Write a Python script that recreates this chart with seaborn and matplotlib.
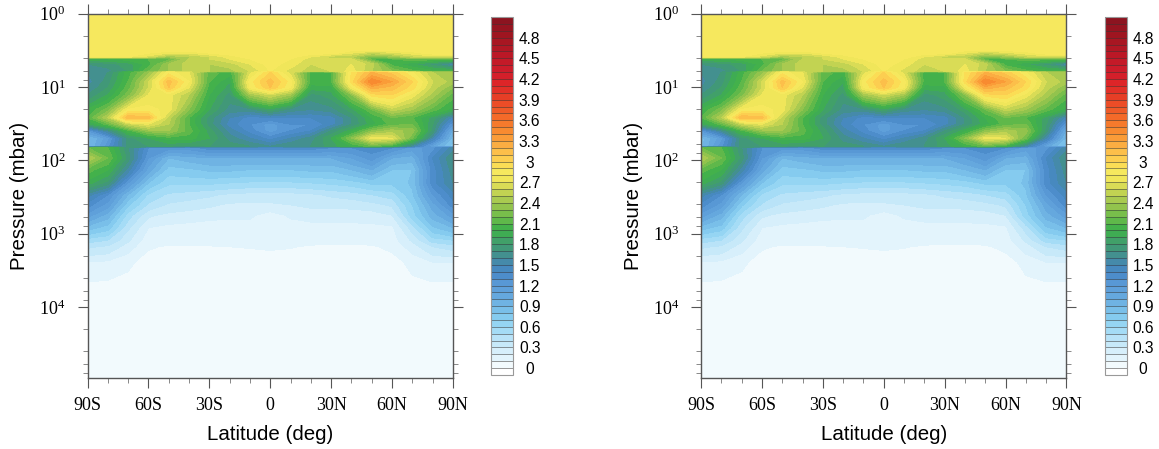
import numpy as np
import seaborn as sns
import matplotlib
matplotlib.use('Agg')
import matplotlib.pyplot as plt
import matplotlib.colors as mcolors
from matplotlib.ticker import FixedLocator, LogLocator, NullFormatter

# Latitude on x, log10 of pressure on y, one list of values per pressure level
lats = [-90, -80, -70, -60, -50, -40, -30, -20, -10, 0, 10, 20, 30, 40, 50, 60, 70, 80, 90]
log_p = [0, .43, .50, .54, .59, .62, .69, .79, .80, .93, 1.01, 1.11, 1.31, 1.42, 1.51, 1.60, 1.70, 1.81,
         1.83, 1.97, 2.13, 2.31, 2.47, 2.61, 2.75, 2.92, 3.09, 3.18, 3.39, 3.66, 3.90, 4.97]

top_yellow = [2.85] * 19
r_043 = [2.85] * 19
r_050 = [2.85, 2.85, 2.85, 2.85, 2.85, 2.85, 2.85, 2.85, 2.85, 2.85, 2.85, 2.85, 2.85, 2.82, 2.8, 2.82, 2.85, 2.85, 2.85]
r_054 = [2.85, 2.85, 2.85, 2.8, 2.7, 2.7, 2.8, 2.85, 2.85, 2.85, 2.85, 2.85, 2.85, 2.7, 2.55, 2.65, 2.75, 2.85, 2.85]
r_059 = [2.85, 2.85, 2.8, 2.65, 2.4, 2.5, 2.6, 2.75, 2.85, 2.85, 2.85, 2.7, 2.55, 2.5, 2.25, 2.35, 2.55, 2.65, 2.65]
r_062 = [2.0, 2.0, 2.05, 2.1, 2.15, 2.5, 2.6, 2.7, 2.8, 2.85, 2.8, 2.65, 2.6, 2.6, 2.1, 2.1, 2.2, 2.15, 2.15]
r_069 = [1.7, 1.75, 1.85, 2.05, 2.4, 2.55, 2.5, 2.55, 2.7, 2.85, 2.75, 2.6, 2.65, 2.7, 2.55, 2.05, 1.9, 1.75, 1.5]
r_079 = [1.6, 1.65, 1.8, 2.2, 2.4, 2.55, 2.5, 2.45, 2.6, 2.8, 2.65, 2.55, 2.6, 2.75, 2.5, 2.3, 2.15, 2.05, 2.05]
r_080 = [1.6, 1.7, 2.05, 2.35, 2.85, 2.7, 2.15, 2.05, 2.65, 3.0, 2.65, 2.05, 2.1, 2.9, 3.2, 3.05, 2.8, 2.5, 2.5]
r_093 = [1.55, 1.75, 2.1, 2.6, 3.15, 2.8, 2.1, 1.9, 2.85, 3.15, 2.85, 2.05, 2.1, 2.95, 3.5, 3.3, 3.0, 2.6, 2.45]
r_101 = [1.6, 1.8, 2.15, 2.6, 3.1, 2.7, 2.05, 1.85, 2.8, 3.1, 2.8, 1.95, 1.95, 2.75, 3.25, 3.15, 2.95, 2.55, 2.3]
r_111 = [1.7, 1.9, 2.25, 2.7, 2.75, 2.5, 2.0, 1.75, 2.4, 2.6, 2.4, 1.75, 1.85, 2.3, 2.95, 3.0, 2.75, 2.45, 2.15]
r_131 = [2.0, 2.25, 2.8, 2.85, 2.75, 2.3, 1.9, 1.65, 1.65, 1.85, 1.65, 1.6, 1.65, 1.85, 2.2, 2.55, 2.4, 2.15, 1.95]
r_142 = [2.1, 2.5, 3.2, 3.15, 2.55, 2.1, 1.75, 1.5, 1.35, 1.4, 1.4, 1.4, 1.45, 1.7, 2.0, 2.2, 2.1, 1.85, 1.45]
r_151 = [1.85, 2.15, 2.55, 2.7, 2.5, 2.1, 1.75, 1.45, 1.3, 1.15, 1.3, 1.3, 1.45, 1.7, 1.95, 2.15, 2.2, 1.8, 1.2]
r_160 = [1.2, 1.6, 2.05, 2.35, 2.4, 2.15, 1.85, 1.55, 1.35, 1.15, 1.3, 1.4, 1.7, 1.95, 2.3, 2.45, 2.35, 1.75, 0.95]
r_170 = [0.85, 1.15, 1.75, 1.9, 2.05, 2.05, 1.9, 1.65, 1.5, 1.35, 1.5, 1.65, 1.9, 2.3, 2.75, 2.7, 2.2, 1.5, 0.85]
r_181 = [0.85, 1.25, 1.75, 1.8, 1.8, 1.75, 1.8, 1.75, 1.7, 1.6, 1.7, 1.7, 1.85, 2.0, 2.15, 2.0, 1.55, 1.05, 0.75]
r_183 = [2.2, 2.1, 1.7, 1.3, 1.25, 1.25, 1.35, 1.35, 1.35, 1.35, 1.35, 1.35, 1.3, 1.3, 1.35, 1.3, 1.15, 1.25, 1.55]
r_197 = [2.5, 2.2, 1.75, 1.2, .9, .95, 1.0, 1.0, 1.0, 1.0, 1.0, 1.0, 1.0, 1.1, 1.25, 1.0, .95, 1.4, 1.7]
r_213 = [2.15, 2.0, 1.55, 1.05, .75, .78, .82, .82, .8, .8, .8, .82, .82, .9, 1.0, .8, .8, 1.35, 1.65]
r_231 = [1.95, 1.75, 1.2, .8, .62, .62, .62, .6, .58, .58, .58, .6, .62, .65, .72, .72, .82, 1.35, 1.6]
r_247 = [1.55, 1.3, .9, .58, .48, .45, .42, .38, .36, .36, .36, .38, .42, .45, .5, .55, .78, 1.2, 1.45]
r_261 = [1.35, 1.15, .72, .48, .38, .35, .32, .28, .28, .28, .3, .32, .32, .33, .36, .42, .7, 1.05, 1.35]
r_275 = [1.15, .95, .55, .32, .27, .25, .23, .22, .22, .15, .22, .25, .25, .25, .25, .3, .65, .95, 1.15]
r_292 = [.85, .75, .42, .2, .17, .16, .15, .15, .15, .13, .14, .15, .15, .16, .17, .18, .45, .78, .9]
r_309 = [.55, .5, .32, .14, .13, .13, .13, .13, .12, .12, .12, .13, .13, .13, .13, .15, .32, .55, .6]
r_318 = [.42, .38, .25, .11, .09, .09, .095, .1, .105, .11, .105, .09, .08, .08, .09, .12, .25, .4, .45]
r_339 = [.19, .18, .12, .06, .05, .05, .05, .05, .05, .06, .05, .05, .05, .05, .05, .06, .13, .2, .2]
r_366 = [.1, .09, .07, .05, .05, .05, .05, .05, .05, .05, .05, .05, .05, .05, .05, .05, .08, .1, .1]
r_390 = [.05] * 19
r_497 = [.05] * 19

rows = [top_yellow, r_043, r_050, r_054, r_059, r_062, r_069, r_079, r_080, r_093, r_101, r_111, r_131, r_142, r_151,
        r_160, r_170, r_181, r_183, r_197, r_213, r_231, r_247, r_261, r_275, r_292, r_309, r_318, r_339,
        r_366, r_390, r_497]

cbar_ticks = [0, .3, .6, .9, 1.2, 1.5, 1.8, 2.1, 2.4, 2.7, 3, 3.3, 3.6, 3.9, 4.2, 4.5, 4.8]
x_ticks = [-90, -60, -30, 0, 30, 60, 90]
x_labels = ['90S', '60S', '30S', '0', '30N', '60N', '90N']
y_ticks = [1, 10, 100, 1000, 10000]
y_labels = ['$10^{0}$', '$10^{1}$', '$10^{2}$', '$10^{3}$', '$10^{4}$']

# one colour per box of the colour bar, from below 0 up to above 5
box_colors = ['#FFFFFF', '#F2FAFD', '#E3F4FC', '#D7EFFB', '#C7E9F9', '#B9E3F8', '#A5DCF6', '#95D5F3', '#85CBEF',
              '#79BFE9', '#6FB3E3', '#65A8DE', '#5FA0DA', '#5898D5', '#4D8DCB', '#4789BF', '#458AAA', '#43908F',
              '#419878', '#41A069', '#3FAC53', '#43B14B', '#5FB84A', '#78BE4B', '#92C34D', '#A9CA50', '#C2D352',
              '#D9DC56', '#F0E65A', '#F6E85E', '#FBDD55', '#FCCE50', '#FCBF4A', '#FBAD42', '#FA9C38', '#F88B30',
              '#F67A2C', '#F46A29', '#EF5B28', '#EC4D27', '#E63E26', '#E23027', '#DD2528', '#D41F2A', '#CC1C2A',
              '#C41A28', '#BB1826', '#B11724', '#A81622', '#9E1520', '#961420', '#8C1420']

sns.set_style('ticks', {'text.color': 'black', 'axes.labelcolor': 'black',
                        'xtick.color': 'black', 'ytick.color': 'black'})
plt.rcParams['font.family'] = ['Liberation Sans', 'DejaVu Sans']
plt.rcParams['mathtext.default'] = 'regular'

W, H = 1159, 449
AXIS_COLOR = '#555555'
levels = np.round(np.arange(0, 5.01, 0.1), 1)
pressure = 10.0 ** np.array(log_p)
field = np.array(rows)


def draw_panel(fig, x_off):
    '''Draw one pressure-latitude section with its colour bar, shifted right by x_off pixels.'''
    # each panel gets its own norm, a shared one resets the first colour bar's ticks
    cmap, norm = mcolors.from_levels_and_colors(levels, sns.color_palette(box_colors), extend='both')

    ax = fig.add_axes([(87.5 + x_off) / W, (H - 378) / H, 365.5 / W, 364.5 / H])
    cf = ax.contourf(lats, pressure, field, levels=levels, cmap=cmap, norm=norm, extend='both')

    ax.set_yscale('log')
    ax.set_ylim(10 ** 4.97, 1)
    ax.set_xlim(-90, 90)

    ax.xaxis.set_major_locator(FixedLocator(x_ticks))
    ax.xaxis.set_minor_locator(FixedLocator(list(range(-90, 91, 10))))
    ax.set_xticklabels(x_labels, family='Liberation Serif', fontsize=13)
    ax.yaxis.set_major_locator(FixedLocator(y_ticks))
    ax.yaxis.set_minor_locator(LogLocator(base=10, subs=(2, 4, 6, 8), numticks=12))
    ax.yaxis.set_minor_formatter(NullFormatter())
    ax.set_yticklabels(y_labels, family='Liberation Serif', fontsize=13)

    ax.tick_params(which='major', direction='out', length=7, width=0.8, color=AXIS_COLOR,
                   top=True, right=True, labelcolor='black')
    ax.tick_params(which='minor', direction='out', length=3.5, width=0.7, color='#888888',
                   top=True, right=True)
    ax.tick_params(axis='x', which='major', pad=7)
    ax.tick_params(axis='y', which='major', pad=9)
    for spine in ax.spines.values():
        spine.set_color(AXIS_COLOR)
        spine.set_linewidth(1.0)

    ax.set_xlabel('Latitude (deg)', fontsize=14.8, va='center')
    ax.xaxis.set_label_coords(0.5, -0.154)
    ax.set_ylabel('Pressure (mbar)', fontsize=14.8, va='center')
    ax.yaxis.set_label_coords(-0.185, 0.5)

    cax = fig.add_axes([(491 + x_off) / W, (H - 375) / H, 22 / W, 358 / H])
    cb = fig.colorbar(cf, cax=cax, drawedges=True, extendrect=True, extendfrac=0.02, spacing='uniform')
    cb.set_ticks(cbar_ticks, labels=['%g' % t for t in cbar_ticks])
    cb.outline.set_edgecolor('#999999')
    cb.outline.set_linewidth(0.8)
    cb.dividers.set_color('#333333')
    cb.dividers.set_alpha(0.6)
    cb.dividers.set_linewidth(0.6)
    for label in cb.ax.get_yticklabels():
        label.set_fontsize(11.2)
        label.set_ha('center')
        label.set_color('black')
    cb.ax.tick_params(length=0, pad=12)
    cb.ax.minorticks_off()


fig = plt.figure(figsize=(W / 100, H / 100), dpi=100)
draw_panel(fig, 0)
draw_panel(fig, 613.5)
fig.savefig('out.png', dpi=100)
